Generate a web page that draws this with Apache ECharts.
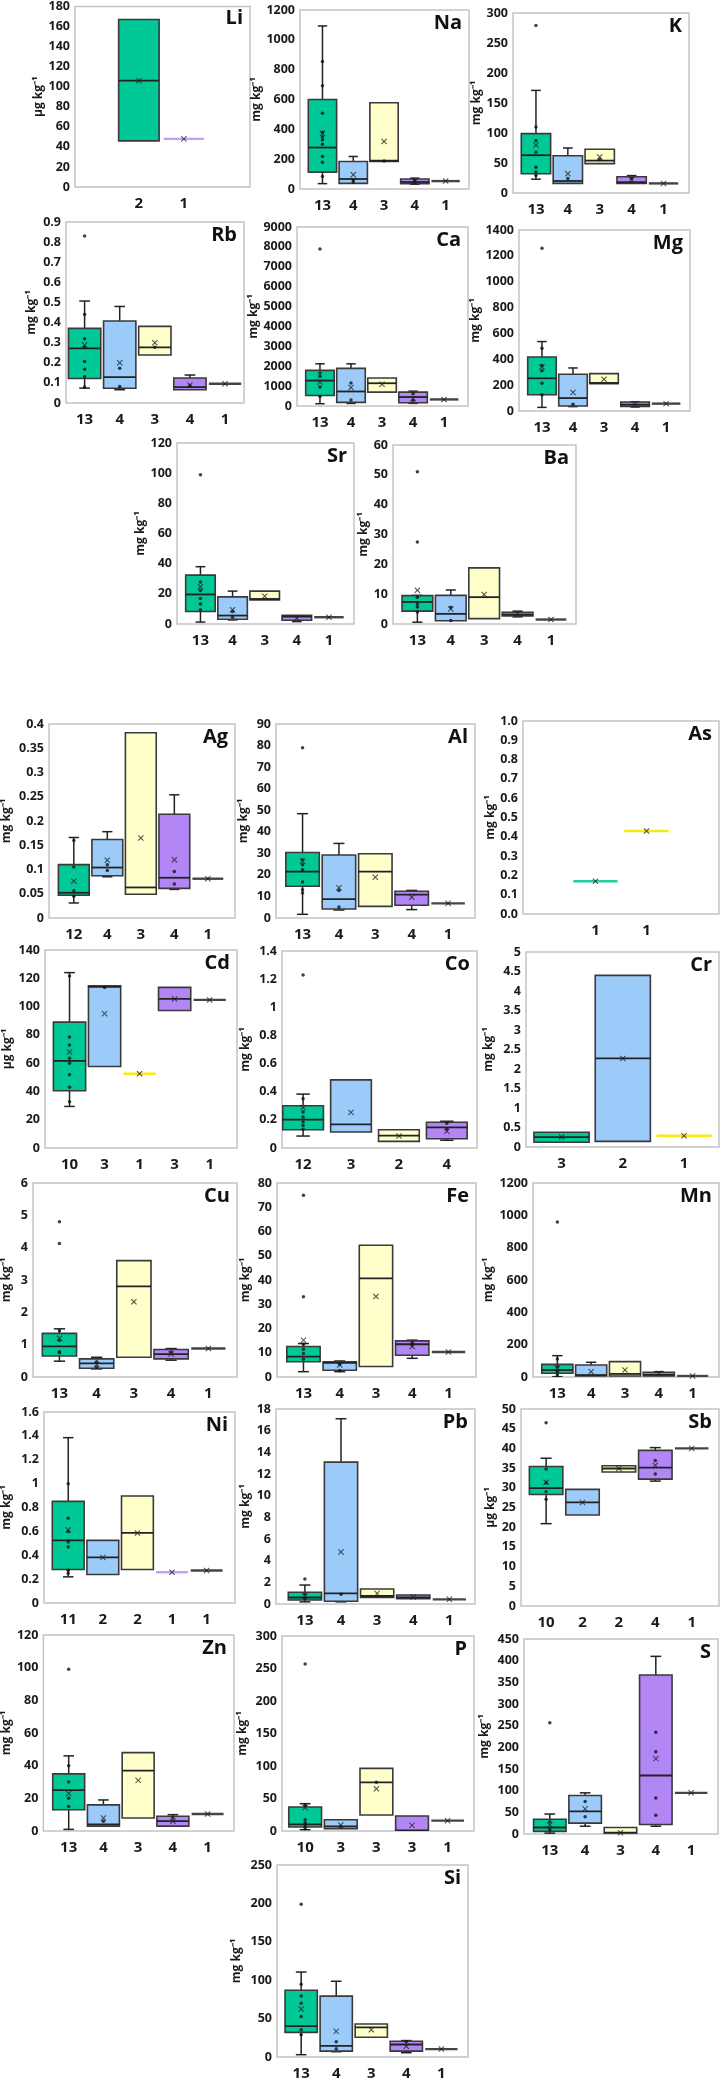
<!DOCTYPE html>
<html><head><meta charset="utf-8">
<script src="https://cdn.jsdelivr.net/npm/echarts@6/dist/echarts.min.js"></script>
<style>html,body{margin:0;padding:0;background:#fff}#c{width:723px;height:2081px}</style>
</head><body><div id="c"></div>
<script>
// ---------- DATA (box = [low whisker, Q1, median, Q3, high whisker]) ----------
const liCats=['2','1'];
const liBox=[[46,46,106,167,167],[48,48,48,48,48]];
const liMean=[106,48];
const liPts=[[],[]];

const naCats=['13','4','3','4','1'];
const naBox=[[36,113,278,600,1093],[38,38,67,184,218],[184,184,190,578,578],[32,36,47,67,73],[53,53,53,53,53]];
const naMean=[373,96,318,52,53];
const naPts=[[855,693,507,380,350,330,300,218,180,84],[47,60],[187],[45,60],[]];

const kCats=['13','4','3','4','1'];
const kBox=[[23,32,63,99,171],[16,16,20,62,75],[49,49,54,73,73],[16,16,18,27,29],[16,16,16,16,16]];
const kMean=[80,32,60,22,16];
const kPts=[[279,110,87,68,43,35,29],[24],[56],[24],[]];

const rbCats=['13','4','3','4','1'];
const rbBox=[[0.074,0.122,0.272,0.371,0.507],[0.066,0.073,0.129,0.408,0.48],[0.239,0.239,0.277,0.381,0.381],[0.066,0.066,0.079,0.124,0.139],[0.096,0.096,0.096,0.096,0.096]];
const rbMean=[0.289,0.2,0.3,0.09,0.096];
const rbPts=[[0.83,0.44,0.32,0.28,0.206,0.168,0.13,0.08],[0.173,0.082],[0.277],[0.087],[]];

const caCats=['13','4','3','4','1'];
const caBox=[[116,530,1277,1791,2122],[130,182,730,1890,2120],[697,697,1144,1410,1410],[133,166,450,700,746],[330,330,330,330,330]];
const caMean=[1210,930,1094,380,330];
const caPts=[[7900,1660,1490,960,480],[1160,300],[],[614,282],[]];

const mgCats=['13','4','3','4','1'];
const mgBox=[[28,126,253,418,537],[34,39,100,284,333],[212,212,217,289,289],[31,36,49,70,72],[57,57,57,57,57]];
const mgMean=[340,144,245,52,57];
const mgPts=[[1258,485,351,312,214,126],[52],[],[],[]];

const srCats=['13','4','3','4','1'];
const srBox=[[1.3,8.3,19.6,32.4,38],[2.7,3.1,5.6,18,21.8],[16,16,16.6,21.8,21.8],[1.6,2.5,4.9,5.8,5.8],[4.5,4.5,4.5,4.5,4.5]];
const srMean=[24.7,9.4,18.4,3.8,4.5];
const srPts=[[99,27.9,22.2,16.9,13.3,9.4],[8.3,4.5],[],[],[]];

const baCats=['13','4','3','4','1'];
const baBox=[[0.6,4.3,7.4,9.5,9.6],[1.1,1.1,3.4,9.6,11.4],[1.8,1.8,9,18.8,18.8],[2.4,2.7,3.1,3.9,4.3],[1.5,1.5,1.5,1.5,1.5]];
const baMean=[11.3,5,9.9,3.5,1.5];
const baPts=[[51,27.5,9,6.7,5.7,4],[5.6,1.2],[],[],[]];

const agCats=['12','4','3','4','1'];
const agBox=[[0.031,0.047,0.052,0.11,0.166],[0.085,0.087,0.104,0.162,0.178],[0.049,0.049,0.063,0.382,0.382],[0.059,0.061,0.083,0.214,0.254],[0.081,0.081,0.081,0.081,0.081]];
const agMean=[0.076,0.119,0.165,0.12,0.081];
const agPts=[[0.16,0.105,0.056,0.045],[0.11,0.098],[],[0.096,0.07],[]];

const alCats=['13','4','3','4','1'];
const alBox=[[1.7,14.7,21.5,30.4,48.4],[3.7,4.2,8.8,29.2,34.6],[5.4,5.4,21.5,29.8,29.8],[3.9,5.9,10.8,12.4,12.8],[6.8,6.8,6.8,6.8,6.8]];
const alMean=[26.3,14,18.9,9.6,6.8];
const alPts=[[79,27,24.7,22.4,16.7,13.1,11.6],[12.7,5.1],[],[],[]];

const asCats=['1','1'];
const asBox=[[0.17,0.17,0.17,0.17,0.17],[0.43,0.43,0.43,0.43,0.43]];
const asMean=[0.17,0.43];
const asPts=[[],[]];

const cdCats=['10','3','1','3','1'];
const cdBox=[[29.4,40.5,61.6,89,124],[57.6,57.6,113.9,114.6,114.6],[52.5,52.5,52.5,52.5,52.5],[97.2,97.2,105.4,113.6,113.6],[104.7,104.7,104.7,104.7,104.7]];
const cdMean=[67.8,95,52.5,105.4,104.7];
const cdPts=[[121.6,78.4,72.9,63.5,60,51.8,43,32.7],[113.4],[],[],[]];

const coCats=['12','3','2','4'];
const coBox=[[0.085,0.13,0.202,0.30,0.383],[0.114,0.114,0.168,0.484,0.484],[0.047,0.047,0.088,0.13,0.13],[0.055,0.066,0.147,0.183,0.19]];
const coMean=[0.287,0.253,0.085,0.119];
const coPts=[[1.23,0.35,0.256,0.22,0.185,0.16,0.133],[],[],[0.176,0.133]];

const crCats=['3','2','1'];
const crBox=[[0.12,0.12,0.255,0.38,0.38],[0.145,0.145,2.27,4.4,4.4],[0.29,0.29,0.29,0.29,0.29]];
const crMean=[0.255,2.27,0.29];
const crPts=[[],[],[]];

const cuCats=['13','4','3','4','1'];
const cuBox=[[0.49,0.65,0.95,1.35,1.49],[0.25,0.27,0.42,0.56,0.61],[0.61,0.61,2.8,3.6,3.6],[0.52,0.56,0.71,0.85,0.88],[0.88,0.88,0.88,0.88,0.88]];
const cuMean=[1.2,0.39,2.33,0.71,0.88];
const cuPts=[[4.8,4.13,1.43,1.14,0.78,0.75],[0.47,0.31],[],[0.77],[]];

const feCats=['13','4','3','4','1'];
const feBox=[[2.2,6.3,8.4,12.6,13.8],[2.2,2.8,5.8,6.3,6.6],[4.3,4.3,40.7,54.3,54.3],[7.7,9,13.5,14.9,15.2],[10.3,10.3,10.3,10.3,10.3]];
const feMean=[15.2,5,33.2,12.6,10.3];
const fePts=[[74.9,33.1,13.5,11.4,9.7,7.3],[5.2,2.6],[],[14.2,13.2],[]];

const mnCats=['13','4','3','4','1'];
const mnBox=[[2,23,43,78,132],[6,6,12,74,91],[6,6,19,95,95],[6,6,14,29,33],[6,6,6,6,6]];
const mnMean=[54,33,43,22,6];
const mnPts=[[958,111,64,33,12],[],[],[],[]];

const niCats=['11','2','2','1','1'];
const niBox=[[0.219,0.281,0.525,0.851,1.385],[0.239,0.239,0.382,0.525,0.525],[0.281,0.281,0.587,0.896,0.896],[0.258,0.258,0.258,0.258,0.258],[0.272,0.272,0.272,0.272,0.272]];
const niMean=[0.612,0.382,0.587,0.258,0.272];
const niPts=[[1.0,0.71,0.6,0.51,0.47,0.275,0.25],[],[],[],[]];

const pbCats=['13','4','3','4','1'];
const pbBox=[[0.2,0.37,0.6,1.08,1.75],[0.2,0.25,0.98,13.1,17.1],[0.6,0.6,0.74,1.38,1.38],[0.5,0.5,0.6,0.83,0.83],[0.43,0.43,0.43,0.43,0.43]];
const pbMean=[0.75,4.8,0.98,0.65,0.43];
const pbPts=[[2.3,0.9,0.5],[0.9],[],[],[]];

const sbCats=['10','2','2','4','1'];
const sbBox=[[20.9,28.3,29.9,35.4,37.5],[23.1,23.1,26.3,29.6,29.6],[34,34,34.9,35.6,35.6],[31.7,32.2,35.1,39.5,40.2],[40,40,40,40,40]];
const sbMean=[31.4,26.3,34.9,35.7,40];
const sbPts=[[46.5,34.8,31.2,29,27.1],[],[],[36.9,33.5],[]];

const znCats=['13','4','3','4','1'];
const znBox=[[1,13,25,35,46],[3,3,4,16,19],[8,8,37,48,48],[3,3,6,9,10],[10.4,10.4,10.4,10.4,10.4]];
const znMean=[23,8,31,6,10.4];
const znPts=[[99,40,30,20,15],[6],[],[8],[]];

const pCats=['10','3','3','3','1'];
const pBox=[[2,6.2,10.3,37,42],[3.6,3.6,7.2,17.4,17.4],[24.6,24.6,74.9,96.4,96.4],[0.5,0.5,1,23,23],[15.9,15.9,15.9,15.9,15.9]];
const pMean=[36,9.2,65.1,8.7,15.9];
const pPts=[[257,39.5,17.4,12.3,7.2,3.6],[7],[75],[],[]];

const sCats=['13','4','3','4','1'];
const sBox=[[2,6,15,34,46],[18,25,52,89,95],[0,0,3,15,15],[18,22,135,367,410],[95,95,95,95,95]];
const sMean=[21,58,3,174,95];
const sPts=[[257,28,10],[75,40],[],[235,190,83,43],[]];

const siCats=['13','4','3','4','1'];
const siBox=[[3,32.1,40.3,87,110.6],[6.9,7.7,14.6,79.3,98.6],[25.7,25.7,38.6,42.9,42.9],[5.6,7.7,16.3,20.6,21.4],[10.3,10.3,10.3,10.3,10.3]];
const siMean=[62.6,33.4,35.6,14.1,10.3];
const siPts=[[199,94.7,79.3,70,52.7,35.6,29],[19.7,10.7],[],[20],[]];

// ---------- LAYOUT / STYLE ----------
const MG='mg kg\u207B\u00B9', UG='\u03BCg kg\u207B\u00B9';
const panels=[
 {t:'Li',u:UG,g:[75,5,175,182],y:[180,20],x:[-1.42,2.47],bw:0.9,gr:'GP',c:liCats,b:liBox,m:liMean,p:liPts,ng:24},
 {t:'Na',u:MG,g:[300,10,169,179],y:[1200,200],x:[-0.73,4.76],gr:'GBYPK',c:naCats,b:naBox,m:naMean,p:naPts,ng:30},
 {t:'K',u:MG,g:[513,13,176,180],y:[300,50],x:[-0.72,4.8],gr:'GBYPK',c:kCats,b:kBox,m:kMean,p:kPts,ng:24},
 {t:'Rb',u:MG,g:[66,222,178,181],y:[0.9,0.1],x:[-0.53,4.54],gr:'GBYPK',c:rbCats,b:rbBox,m:rbMean,p:rbPts,ng:22},
 {t:'Ca',u:MG,g:[297,227,171,179],y:[9000,1000],x:[-0.74,4.77],gr:'GBYPK',c:caCats,b:caBox,m:caMean,p:caPts,ng:30},
 {t:'Mg',u:MG,g:[519,230,171,181],y:[1400,200],x:[-0.74,4.77],gr:'GBYPK',c:mgCats,b:mgBox,m:mgMean,p:mgPts,ng:30},
 {t:'Sr',u:MG,g:[177,443,177,181],y:[120,20],x:[-0.73,4.78],gr:'GBYPK',c:srCats,b:srBox,m:srMean,p:srPts,ng:22},
 {t:'Ba',u:MG,g:[393,445,183,179],y:[60,10],x:[-0.73,4.75],gr:'GBYPK',c:baCats,b:baBox,m:baMean,p:baPts,ng:17},
 {t:'Ag',u:MG,g:[44,724,191,194],y:[0.4,0.05],x:[-0.74,4.81],gr:'GBYPK',c:agCats,b:agBox,m:agMean,p:agPts,ng:30},
 {t:'Al',u:MG,g:[276,724,199,194],y:[90,10],x:[-0.73,4.74],gr:'GBYPK',c:alCats,b:alBox,m:alMean,p:alPts,ng:20},
 {t:'As',u:MG,g:[523,721,196,193],y:[1,0.1],x:[-1.42,2.42],bw:0.87,gr:'GY',c:asCats,b:asBox,m:asMean,p:asPts,ng:20,fx:1},
 {t:'Cd',u:UG,g:[45,950,192,198],y:[140,20],x:[-0.7,4.78],gr:'GBYPK',c:cdCats,b:cdBox,m:cdMean,p:cdPts,ng:25},
 {t:'Co',u:MG,g:[282,951,195,197],y:[1.4,0.2],x:[-0.44,3.63],bw:0.85,gr:'GBYP',c:coCats,b:coBox,m:coMean,p:coPts,ng:24},
 {t:'Cr',u:MG,g:[526,952,193,195],y:[5,0.5],x:[-0.58,2.57],bw:0.9,gr:'GBY',c:crCats,b:crBox,m:crMean,p:crPts,ng:25},
 {t:'Cu',u:MG,g:[31,1183,206,194],y:[6,1],x:[-0.71,4.77],gr:'GBYPK',c:cuCats,b:cuBox,m:cuMean,p:cuPts,ng:14},
 {t:'Fe',u:MG,g:[277,1183,199,194],y:[80,10],x:[-0.73,4.76],gr:'GBYPK',c:feCats,b:feBox,m:feMean,p:fePts,ng:19},
 {t:'Mn',u:MG,g:[533,1183,186,194],y:[1200,200],x:[-0.72,4.78],gr:'GBYPK',c:mnCats,b:mnBox,m:mnMean,p:mnPts,ng:32},
 {t:'Ni',u:MG,g:[39,1412,196,191],y:[1.6,0.2],x:[-0.7,4.82],gr:'GBYPK',c:niCats,b:niBox,m:niMean,p:niPts,ng:25},
 {t:'Pb',u:MG,g:[276,1409,199,195],y:[18,2],x:[-0.8,4.71],gr:'GBYPK',c:pbCats,b:pbBox,m:pbMean,p:pbPts,ng:18},
 {t:'Sb',u:UG,g:[521,1409,198,197],y:[50,5],x:[-0.69,4.75],gr:'GBYPK',c:sbCats,b:sbBox,m:sbMean,p:sbPts,ng:18},
 {t:'Zn',u:MG,g:[41,1635,193,196],y:[120,20],x:[-0.73,4.76],gr:'GBYPK',c:znCats,b:znBox,m:znMean,p:znPts,ng:23},
 {t:'P',u:MG,g:[282,1636,192,195],y:[300,50],x:[-0.65,4.74],gr:'GBYPK',c:pCats,b:pBox,m:pMean,p:pPts,ng:27},
 {t:'S',u:MG,g:[524,1639,194,195],y:[450,50],x:[-0.73,4.76],gr:'GBYPK',c:sCats,b:sBox,m:sMean,p:sPts,ng:27},
 {t:'Si',u:MG,g:[277,1865,191,194],y:[250,50],x:[-0.69,4.76],gr:'GBYPK',c:siCats,b:siBox,m:siMean,p:siPts,ng:28}
];
const GROUPS={
 G:{fill:'#00c896',line:'#1fd2a2'},
 B:{fill:'#9ccbfa',line:'#6fb3f5'},
 Y:{fill:'#ffffcc',line:'#f6ea12'},
 P:{fill:'#b287f5',line:'#c59cff'},
 K:{fill:'#444',line:'#444'}
};
const FONT="'Liberation Sans Narrow','Arial Narrow','Open Sans',sans-serif";
const XSYM='path://M0,1.2L1.2,0L5,3.8L8.8,0L10,1.2L6.2,5L10,8.8L8.8,10L5,6.2L1.2,10L0,8.8L3.8,5Z';

function makeRender(p){
  const bw=p.bw||0.92;
  return function(params,api){
    const i=api.value(0),lo=api.value(1),q1=api.value(2),md=api.value(3),q3=api.value(4),hi=api.value(5);
    const grp=GROUPS[p.gr[params.dataIndex]];
    const half=api.size([bw,0])[0]/2;
    const cx=api.coord([i,md])[0];
    const Y=v=>api.coord([i,v])[1];
    const ch=[];
    if(q1===q3){
      ch.push({type:'line',shape:{x1:cx-half,y1:Y(md),x2:cx+half,y2:Y(md)},style:{stroke:grp.line,lineWidth:2.4}});
      return {type:'group',children:ch};
    }
    const cap=half*0.33, ws={stroke:'#222',lineWidth:1.5};
    if(hi>q3){
      ch.push({type:'line',shape:{x1:cx,y1:Y(q3),x2:cx,y2:Y(hi)},style:ws});
      ch.push({type:'line',shape:{x1:cx-cap,y1:Y(hi),x2:cx+cap,y2:Y(hi)},style:ws});
    }
    if(lo<q1){
      ch.push({type:'line',shape:{x1:cx,y1:Y(q1),x2:cx,y2:Y(lo)},style:ws});
      ch.push({type:'line',shape:{x1:cx-cap,y1:Y(lo),x2:cx+cap,y2:Y(lo)},style:ws});
    }
    ch.push({type:'rect',shape:{x:cx-half,y:Y(q3),width:2*half,height:Y(q1)-Y(q3)},style:{fill:grp.fill,stroke:'#3a3a3a',lineWidth:1.6}});
    ch.push({type:'line',shape:{x1:cx-half,y1:Y(md),x2:cx+half,y2:Y(md)},style:{stroke:'#222',lineWidth:1.8}});
    return {type:'group',children:ch};
  };
}

const option={animation:false,grid:[],xAxis:[],yAxis:[],series:[],title:[]};
panels.forEach((p,k)=>{
  const [l,t,w,h]=p.g;
  option.grid.push({left:l,top:t,width:w,height:h,show:true,borderColor:'#c4c4c4',borderWidth:1.5,containLabel:false});
  option.xAxis.push({type:'value',gridIndex:k,min:p.x[0],max:p.x[1],
    axisLine:{show:false},axisTick:{show:false},splitLine:{show:false},
    axisLabel:{customValues:p.c.map((_,j)=>j),formatter:v=>p.c[Math.round(v)]||'',
      fontFamily:FONT,fontWeight:'bold',fontSize:15,color:'#1a1a1a',margin:9}});
  option.yAxis.push({type:'value',gridIndex:k,min:0,max:p.y[0],interval:p.y[1],
    axisLine:{show:false},axisTick:{show:false},splitLine:{show:false},
    axisLabel:{fontFamily:FONT,fontWeight:'bold',fontSize:12.5,color:'#1a1a1a',margin:5,
      formatter:p.fx?(v=>v.toFixed(1)):(v=>String(+v.toFixed(4)))},
    name:p.u,nameLocation:'middle',nameRotate:90,nameGap:p.ng+6,
    nameTextStyle:{fontFamily:FONT,fontWeight:'bold',fontSize:12,color:'#1a1a1a'}});
  option.title.push({text:p.t,right:723-(l+w)+7,top:t+3,padding:0,
    textStyle:{fontFamily:FONT,fontWeight:'bold',fontSize:20,color:'#111'}});
  option.series.push({type:'custom',xAxisIndex:k,yAxisIndex:k,clip:true,
    renderItem:makeRender(p),encode:{x:0,y:[1,2,3,4,5]},
    data:p.b.map((b,j)=>[j].concat(b)),z:2});
  const pts=[];p.p.forEach((arr,j)=>arr.forEach(v=>pts.push([j,v])));
  option.series.push({type:'scatter',xAxisIndex:k,yAxisIndex:k,symbol:'circle',symbolSize:3.5,
    itemStyle:{color:'#111'},data:pts,z:4,silent:true});
  option.series.push({type:'scatter',xAxisIndex:k,yAxisIndex:k,symbol:XSYM,symbolSize:6,
    itemStyle:{color:'#222'},data:p.m.map((v,j)=>[j,v]),z:5,silent:true});
});
const chart=echarts.init(document.getElementById('c'),null,{renderer:'canvas'});
chart.setOption(option);
</script></body></html>
